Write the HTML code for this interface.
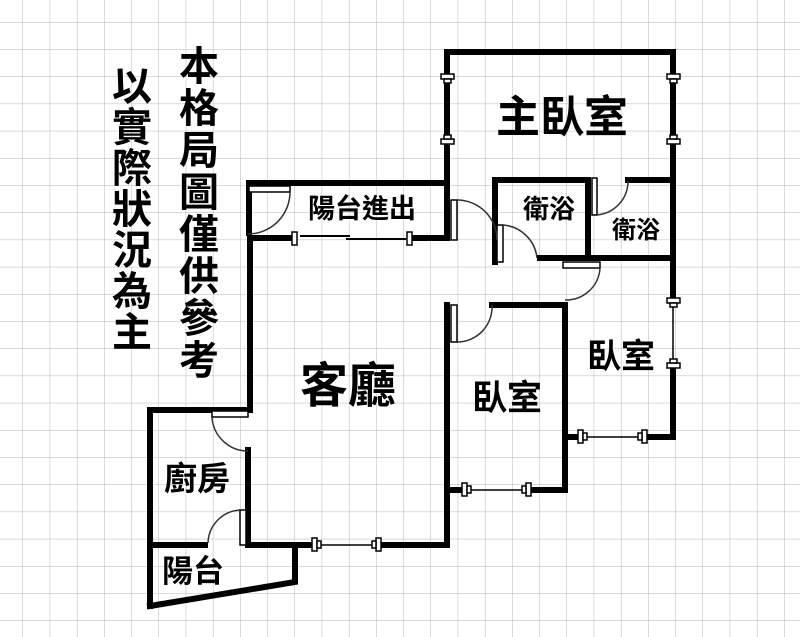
<!DOCTYPE html>
<html><head><meta charset="utf-8"><style>
html,body{margin:0;padding:0;background:#fff;}
svg{display:block;}
text{font-family:"Liberation Sans","Noto Sans CJK TC",sans-serif;font-weight:bold;fill:#000;}
</style></head><body>
<svg width="800" height="637" viewBox="0 0 800 637" xmlns="http://www.w3.org/2000/svg">
<defs>
<pattern id="g" x="22.5" y="22" width="27.2" height="27.2" patternUnits="userSpaceOnUse">
<path d="M0 0H27.2M0 0V27.2" stroke="#b5b5b5" stroke-width="1" fill="none"/>
</pattern>
</defs>
<rect width="800" height="637" fill="#fff"/>
<rect width="800" height="637" fill="url(#g)"/>

<g stroke="#000" stroke-width="6" fill="none" stroke-linecap="square">
<path d="M447 140 V52 H673 V140"/>
<path d="M447 75 V79"/><path d="M673 75 V79"/>
<path d="M447 140 V238 H410"/>
<path d="M293 238 H250 V410 H150 V606"/>
<path d="M150 606 L295 582 V545"/>
<path d="M249 233 V183 H447"/>
<path d="M150 545 H205"/>
<path d="M248 450 V545 H312"/>
<path d="M380 545 H447 V305"/>
<path d="M447 490 H462"/><path d="M530 490 H565 V305 H492"/>
<path d="M565 437 H578"/><path d="M645 437 H673 V365"/>
<path d="M673 300 V140"/>
<path d="M495 262 V180 H588 V258"/>
<path d="M540 258 H673"/>
<path d="M628 180 H673"/>
</g>
<g stroke="#000" stroke-width="1.5" fill="#fff">
<line x1="447" y1="78" x2="447" y2="140"/>
<line x1="673" y1="78" x2="673" y2="140"/>
<line x1="673" y1="300" x2="673" y2="365"/>
<line x1="300" y1="236" x2="350" y2="236" stroke-width="2"/>
<line x1="346" y1="239" x2="406" y2="239" stroke-width="2"/>
<line x1="312" y1="545" x2="380" y2="545"/>
<line x1="462" y1="490" x2="530" y2="490"/>
<line x1="578" y1="437" x2="645" y2="437"/>
<rect x="441" y="74" width="13" height="5"/><rect x="444" y="79" width="7" height="4"/>
<rect x="441" y="139" width="13" height="5"/><rect x="444" y="135" width="7" height="4"/>
<rect x="667" y="74" width="13" height="5"/><rect x="670" y="79" width="7" height="4"/>
<rect x="667" y="139" width="13" height="5"/><rect x="670" y="135" width="7" height="4"/>
<rect x="667" y="298" width="13" height="5"/><rect x="670" y="303" width="7" height="4"/>
<rect x="667" y="363" width="13" height="5"/><rect x="670" y="359" width="7" height="4"/>
<rect x="292" y="232" width="5" height="13"/><rect x="407" y="232" width="5" height="13"/>
<rect x="312" y="538" width="5" height="13"/><rect x="317" y="541" width="4" height="7"/>
<rect x="376" y="538" width="5" height="13"/><rect x="372" y="541" width="4" height="7"/>
<rect x="462" y="483" width="5" height="13"/><rect x="467" y="486" width="4" height="7"/>
<rect x="526" y="483" width="5" height="13"/><rect x="522" y="486" width="4" height="7"/>
<rect x="578" y="430" width="5" height="13"/><rect x="583" y="433" width="4" height="7"/>
<rect x="642" y="430" width="5" height="13"/><rect x="638" y="433" width="4" height="7"/>
</g>
<g stroke="#000" stroke-width="1.5" fill="#fff">
<rect x="249" y="186" width="41" height="6"/>
<rect x="212" y="411" width="36" height="6"/>
<rect x="240" y="510" width="6" height="35"/>
<rect x="451" y="200" width="6" height="40"/>
<rect x="497" y="225" width="6" height="37"/>
<rect x="592" y="178" width="5" height="37"/>
<rect x="563" y="262" width="37" height="6"/>
<rect x="451" y="305" width="6" height="37"/>
</g>
<g stroke="#333" stroke-width="1.5" fill="none">
<path d="M290 192 A42 42 0 0 1 248 234"/>
<path d="M212 417 A36 36 0 0 0 248 451"/>
<path d="M240 510 A34 34 0 0 0 208 543"/>
<path d="M457 200 A40 40 0 0 1 497 240"/>
<path d="M503 225 A37 37 0 0 1 537 258"/>
<path d="M597 215 A34 34 0 0 0 628 181"/>
<path d="M600 268 A34 34 0 0 1 565 300"/>
<path d="M457 342 A35 35 0 0 0 492 305"/>
</g>
<g font-size="40" text-anchor="middle">
<text x="132" y="100">以</text><text x="132" y="141">實</text><text x="132" y="182">際</text><text x="132" y="223">狀</text><text x="132" y="264">況</text><text x="132" y="305">為</text><text x="132" y="346">主</text>
<text x="199" y="80">本</text><text x="199" y="122">格</text><text x="199" y="164">局</text><text x="199" y="206">圖</text><text x="199" y="248">僅</text><text x="199" y="290">供</text><text x="199" y="332">參</text><text x="199" y="374">考</text>
</g>
<text x="562" y="132" font-size="44" text-anchor="middle">主臥室</text>
<text x="348" y="402" font-size="48" text-anchor="middle">客廳</text>
<text x="362" y="218" font-size="27" text-anchor="middle">陽台進出</text>
<text x="549" y="218" font-size="26" text-anchor="middle">衛浴</text>
<text x="636" y="238" font-size="24" text-anchor="middle">衛浴</text>
<text x="507" y="410" font-size="35" text-anchor="middle">臥室</text>
<text x="621" y="368" font-size="34" text-anchor="middle">臥室</text>
<text x="197" y="490" font-size="33" text-anchor="middle">廚房</text>
<text x="193" y="582" font-size="31" text-anchor="middle">陽台</text>
</svg>
</body></html>
